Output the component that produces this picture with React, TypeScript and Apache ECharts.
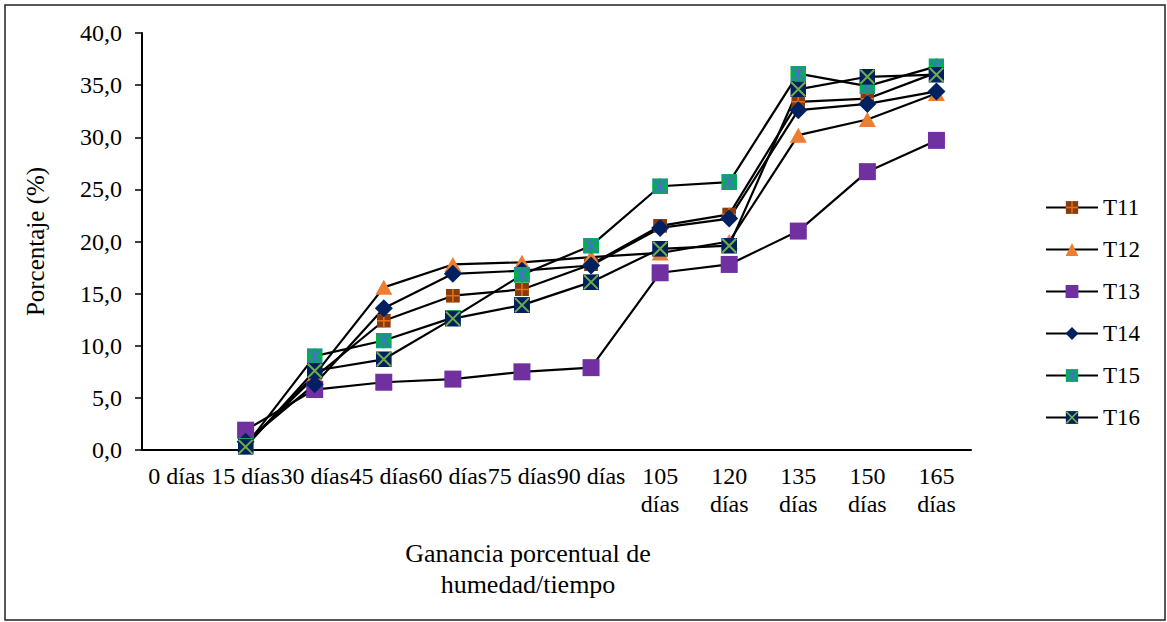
import React, { useEffect, useRef } from "react";
import * as echarts from "echarts";

// Sampling days on the category axis
const categories = [
  "0 días", "15 días", "30 días", "45 días", "60 días", "75 días",
  "90 días", "105 días", "120 días", "135 días", "150 días", "165 días",
];

// Moisture gain (%) per treatment; no reading at day 0
const t11 = [null, 0.5, 7.0, 12.4, 14.8, 15.4, 17.8, 21.5, 22.6, 33.4, 33.7, 36.2];
const t12 = [null, 0.5, 7.2, 15.6, 17.8, 18.0, 18.5, 18.9, 20.0, 30.2, 31.7, 34.2];
const t13 = [null, 1.9, 5.8, 6.5, 6.8, 7.5, 7.9, 17.0, 17.8, 21.0, 26.7, 29.7];
const t14 = [null, 0.8, 6.3, 13.6, 16.9, 17.2, 17.7, 21.3, 22.2, 32.6, 33.2, 34.4];
const t15 = [null, 0.4, 9.0, 10.5, 12.7, 16.8, 19.6, 25.3, 25.7, 36.1, 34.9, 36.8];
const t16 = [null, 0.3, 7.6, 8.7, 12.6, 13.9, 16.1, 19.3, 19.6, 34.6, 35.8, 36.0];

const seriesNames = ["T11", "T12", "T13", "T14", "T15", "T16"];

const FONT = "'Liberation Serif', 'Times New Roman', serif";

const svgSymbol = (body: string, w: number, h: number) =>
  "image://data:image/svg+xml;charset=utf-8," +
  encodeURIComponent(
    `<svg xmlns="http://www.w3.org/2000/svg" width="${w}" height="${h}" viewBox="0 0 ${w} ${h}">${body}</svg>`
  );

// Two-colour markers
const crossSquare = svgSymbol(
  '<rect width="14" height="14" fill="#8A3B0C"/><path d="M7 0V14M0 7H14" stroke="#E0701E" stroke-width="1.6"/>',
  14, 14
);
const starSquare = svgSymbol(
  '<rect width="16" height="16" fill="#00B050"/><path d="M1 1L15 15M15 1L1 15M8 0V16" stroke="#4472C4" stroke-width="1.8"/>',
  16, 16
);
const xSquare = svgSymbol(
  '<rect width="16" height="16" fill="#002060"/><path d="M1 1L15 15M15 1L1 15" stroke="#70AD47" stroke-width="2"/>',
  16, 16
);

const markers = [
  { symbol: crossSquare, size: 14, color: "#8A3B0C" },
  { symbol: "triangle", size: [17, 15], color: "#ED7D31" },
  { symbol: "rect", size: 17, color: "#7030A0" },
  { symbol: "diamond", size: 18, color: "#002060" },
  { symbol: starSquare, size: 16, color: "#00B050" },
  { symbol: xSquare, size: 16, color: "#002060" },
];

const values = [t11, t12, t13, t14, t15, t16];

export default function App() {
  const ref = useRef<HTMLDivElement>(null);

  useEffect(() => {
    document.body.style.margin = "0";
    if (!ref.current) return;
    const chart = echarts.init(ref.current, null, { renderer: "svg" });

    chart.setOption({
      animation: false,
      backgroundColor: "#ffffff",
      textStyle: { fontFamily: FONT, color: "#000" },
      grid: { left: 142, right: 196, top: 33, bottom: 172, containLabel: false },
      xAxis: {
        type: "category",
        data: categories,
        boundaryGap: true,
        axisLine: { lineStyle: { color: "#000", width: 2 } },
        axisTick: { show: false },
        axisLabel: {
          interval: 0,
          margin: 12,
          fontSize: 24,
          lineHeight: 28,
          color: "#000",
          fontFamily: FONT,
          formatter: (v: string, i: number) => (i >= 7 ? v.replace(" ", "\n") : v),
        },
        splitLine: { show: false },
      },
      yAxis: {
        type: "value",
        min: 0,
        max: 40,
        interval: 5,
        name: "Porcentaje (%)",
        nameLocation: "middle",
        nameGap: 94,
        nameTextStyle: { fontSize: 25, color: "#000", fontFamily: FONT },
        axisLine: { show: true, lineStyle: { color: "#000", width: 2 } },
        axisTick: { show: true, inside: false, length: 7, lineStyle: { color: "#000", width: 1.5 } },
        axisLabel: {
          margin: 20,
          fontSize: 24,
          color: "#000",
          fontFamily: FONT,
          formatter: (v: number) => v.toFixed(1).replace(".", ","),
        },
        splitLine: { show: false },
      },
      legend: {
        orient: "vertical",
        left: 1045,
        top: 196,
        padding: 0,
        itemWidth: 52,
        itemHeight: 16,
        itemGap: 19,
        textStyle: { fontSize: 23, color: "#000", fontFamily: FONT, lineHeight: 23 },
        data: seriesNames,
      },
      graphic: [
        {
          type: "rect",
          shape: { x: 5, y: 5, width: 1160, height: 615 },
          style: { fill: "none", stroke: "#222", lineWidth: 1.5 },
          silent: true,
        },
        {
          type: "text",
          x: 528,
          y: 538,
          style: {
            text: "Ganancia porcentual de\nhumedad/tiempo",
            font: `26px ${FONT}`,
            fill: "#000",
            align: "center",
            verticalAlign: "top",
            lineHeight: 31,
          },
        },
      ],
      series: values.map((d, i) => ({
        name: seriesNames[i],
        type: "line",
        data: d,
        symbol: markers[i].symbol,
        symbolSize: markers[i].size,
        showSymbol: true,
        lineStyle: { color: "#000", width: 2.2 },
        itemStyle: { color: markers[i].color },
        emphasis: { disabled: true },
        connectNulls: false,
      })),
    });

    return () => chart.dispose();
  }, []);

  return <div ref={ref} style={{ width: 1167, height: 622 }} />;
}
